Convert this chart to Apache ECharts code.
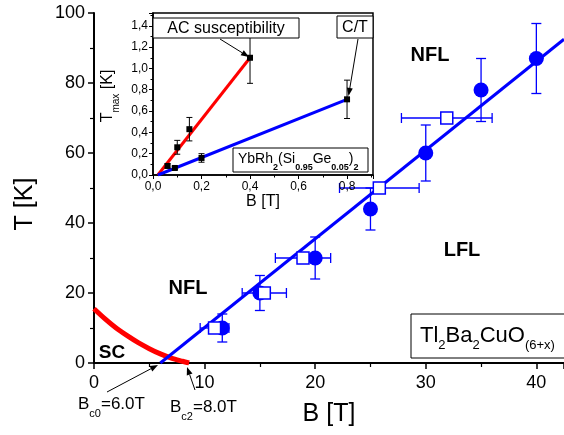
<!DOCTYPE html>
<html>
<head>
<meta charset="utf-8">
<script src="https://cdn.jsdelivr.net/npm/echarts@6/dist/echarts.min.js"></script>
<style>
  html, body { margin: 0; padding: 0; background: #fff; }
  #chart { width: 564px; height: 435px; }
</style>
</head>
<body>
<div id="chart"></div>
<script>
// main panel, Tl2Ba2CuO(6+x)
var circleB = [11.6, 15, 20, 25, 30, 35, 40];
var circleT = [10, 20, 30, 44, 60, 78, 87];
var circleTErr = [4, 5, 6, 6, 8, 9, 10];

var squareB = [10.9, 15.4, 18.9, 25.8, 31.9];
var squareT = [10, 20, 30, 50, 70];
var squareBErr = [1.3, 2, 2.5, 3.6, 4.1];

// superconducting boundary (red) and linear fit (blue)
var scB = [0, 1, 2, 3, 4, 5, 6, 7, 8, 8.6];
var scT = [15.5, 12.6, 10, 7.8, 5.8, 4.1, 2.6, 1.4, 0.5, 0];
var fitB = [6.0, 42.5];
var fitT = [0, 92.5];

// inset, YbRh2(Si0.95Ge0.05)2
var acB = [0.06, 0.1, 0.15, 0.4];
var acT = [0.085, 0.26, 0.43, 1.1];
var acErr = [0.02, 0.065, 0.11, 0.24];
var ctB = [0.09, 0.2, 0.8];
var ctT = [0.066, 0.16, 0.71];
var ctErr = [0.015, 0.04, 0.18];
var acLineB = [0.02, 0.4], acLineT = [0, 1.1];
var ctLineB = [0.02, 0.8], ctLineT = [0, 0.71];

var mainXTicks = [0, 10, 20, 30, 40];
var mainYTicks = [0, 20, 40, 60, 80, 100];

var BLUE = '#0000ff';
var RED = '#ff0000';
var FONT = 'Liberation Sans, Arial, sans-serif';

function zip(a, b, c) {
  return a.map(function (v, i) { return c ? [v, b[i], c[i]] : [v, b[i]]; });
}

// error bars drawn through the axes
function errBars(dim, color, cap, width) {
  return function (params, api) {
    var x = api.value(0), y = api.value(1), e = api.value(2);
    var a, b;
    if (dim === 'y') { a = api.coord([x, y - e]); b = api.coord([x, y + e]); }
    else { a = api.coord([x - e, y]); b = api.coord([x + e, y]); }
    var st = { stroke: color, lineWidth: width };
    var kids = [{ type: 'line', shape: { x1: a[0], y1: a[1], x2: b[0], y2: b[1] }, style: st }];
    [a, b].forEach(function (p) {
      kids.push(dim === 'y'
        ? { type: 'line', shape: { x1: p[0] - cap, y1: p[1], x2: p[0] + cap, y2: p[1] }, style: st }
        : { type: 'line', shape: { x1: p[0], y1: p[1] - cap, x2: p[0], y2: p[1] + cap }, style: st });
    });
    return { type: 'group', children: kids };
  };
}

function arrow(x1, y1, x2, y2) {
  var ang = Math.atan2(y2 - y1, x2 - x1), L = 8, W = 3;
  var bx = x2 - L * Math.cos(ang), by = y2 - L * Math.sin(ang);
  var nx = -Math.sin(ang), ny = Math.cos(ang);
  return [
    { type: 'line', z: 100, shape: { x1: x1, y1: y1, x2: bx, y2: by }, style: { stroke: '#000', lineWidth: 1 } },
    { type: 'polygon', z: 100, shape: { points: [[x2, y2], [bx + nx * W, by + ny * W], [bx - nx * W, by - ny * W]] }, style: { fill: '#000' } }
  ];
}

function label(x, y, text, size, opts) {
  opts = opts || {};
  return {
    type: 'text', z: 100, x: x, y: y, rotation: opts.rotation || 0,
    style: {
      text: text, fill: '#000', fontFamily: FONT, fontSize: size,
      fontWeight: opts.bold ? 'bold' : 'normal',
      align: opts.align || 'center', verticalAlign: 'middle',
      rich: opts.rich
    }
  };
}

function subRich(main, sub, lh, slh, subBold) {
  return {
    m: { fontSize: main, lineHeight: lh, fontFamily: FONT, fill: '#000' },
    s: { fontSize: sub, lineHeight: slh, verticalAlign: 'bottom', fontFamily: FONT, fill: '#000', fontWeight: subBold ? 'bold' : 'normal' }
  };
}

function box(x, y, w, h) {
  return { type: 'rect', z: 99, shape: { x: x, y: y, width: w, height: h }, style: { fill: '#fff', stroke: '#000', lineWidth: 1 } };
}

var commaFmt = function (v) { return v.toFixed(1).replace('.', ','); };

var mainAxisCommon = {
  axisLine: { show: true, onZero: false, lineStyle: { color: '#000', width: 2 } },
  axisTick: { show: true, inside: false, length: 6, lineStyle: { color: '#000', width: 1.5 } },
  minorTick: { show: true, splitNumber: 2, length: 4, lineStyle: { color: '#000', width: 1.2 } },
  splitLine: { show: false },
  axisLabel: { color: '#000', fontSize: 18, fontFamily: FONT, margin: 9 }
};

var insetAxisCommon = {
  axisLine: { show: true, onZero: false, lineStyle: { color: '#000', width: 1.5 } },
  axisTick: { show: true, inside: false, length: 4, lineStyle: { color: '#000', width: 1 } },
  minorTick: { show: true, splitNumber: 2, length: 2.5, lineStyle: { color: '#000', width: 1 } },
  splitLine: { show: false },
  axisLabel: { color: '#000', fontSize: 12, fontFamily: FONT, margin: 5, formatter: commaFmt, showMaxLabel: false }
};

var graphics = [];
graphics.push(label(430, 55, 'NFL', 20, { bold: true }));
graphics.push(label(462, 250, 'LFL', 20, { bold: true }));
graphics.push(label(188, 288, 'NFL', 20, { bold: true }));
graphics.push(label(112, 353, 'SC', 19, { bold: true }));

// main axis title on the left, drawn as rotated text
graphics.push(label(25, 204, 'T [K]', 25, { rotation: Math.PI / 2 }));

graphics.push(box(411, 314, 160, 44));
graphics.push(label(420, 336, '{m|Tl}{s|2}{m|Ba}{s|2}{m|CuO}{s|(6+x)}', 22,
  { align: 'left', rich: subRich(22, 13, 32, 12) }));

graphics.push(label(78, 404, '{m|B}{s|c0}{m|=6.0T}', 17, { align: 'left', rich: subRich(17, 11, 30, 10) }));
graphics.push(label(170, 407, '{m|B}{s|c2}{m|=8.0T}', 17, { align: 'left', rich: subRich(17, 11, 30, 10) }));
graphics = graphics.concat(arrow(107, 392, 158, 365));
graphics = graphics.concat(arrow(195, 390, 187, 367));

// inset annotations
graphics.push(box(153, 18, 146, 20));
graphics.push(label(226, 28.5, 'AC susceptibility', 16));
graphics.push(box(337, 16, 36, 22));
graphics.push(label(355, 27.5, 'C/T', 16));
graphics = graphics.concat(arrow(220, 39, 249, 57));
graphics = graphics.concat(arrow(358, 39, 348.5, 96));
graphics.push(box(233, 148, 135, 24));
graphics.push(label(238, 159, '{m|YbRh}{s|2}{m|(Si}{s|0.95}{m|Ge}{s|0.05}{m|)}{s|2}', 14,
  { align: 'left', rich: subRich(14, 9, 26, 8, true) }));
graphics.push(label(108, 96, '{m|T}{s|max}{m| [K]}', 16,
  { rotation: Math.PI / 2, rich: subRich(16, 10, 26, 10) }));

var option = {
  animation: false,
  backgroundColor: '#fff',
  grid: [
    { left: 94, right: 0, top: 13, bottom: 72, containLabel: false, outerBoundsMode: 'none' },
    { left: 153, top: 13, width: 220, height: 162, show: true, backgroundColor: '#fff',
      borderColor: '#000', borderWidth: 1.5, containLabel: false, outerBoundsMode: 'none', z: 5 }
  ],
  xAxis: [
    Object.assign({}, mainAxisCommon, {
      type: 'value', gridIndex: 0, min: mainXTicks[0], max: 42.5, interval: 10, position: 'bottom',
      axisLabel: Object.assign({}, mainAxisCommon.axisLabel, { showMaxLabel: false, margin: 11 }),
      name: 'B [T]', nameLocation: 'middle', nameGap: 39,
      nameTextStyle: { color: '#000', fontSize: 25, fontFamily: FONT }
    }),
    {
      type: 'value', gridIndex: 0, min: 0, max: 42.5, position: 'top',
      axisLine: { show: true, lineStyle: { color: '#000', width: 2 } },
      axisTick: { show: false }, axisLabel: { show: false }, splitLine: { show: false }
    },
    Object.assign({}, insetAxisCommon, {
      type: 'value', gridIndex: 1, min: 0, max: 0.907, interval: 0.2, position: 'bottom', z: 6,
      axisLabel: Object.assign({}, insetAxisCommon.axisLabel, { margin: 6 }),
      name: 'B [T]', nameLocation: 'middle', nameGap: 19,
      nameTextStyle: { color: '#000', fontSize: 16, fontFamily: FONT }
    })
  ],
  yAxis: [
    Object.assign({}, mainAxisCommon, {
      type: 'value', gridIndex: 0, min: mainYTicks[0], max: 100, interval: 20
    }),
    Object.assign({}, insetAxisCommon, {
      type: 'value', gridIndex: 1, min: 0, max: 1.52, interval: 0.2, z: 6
    })
  ],
  graphic: { elements: graphics },
  series: [
    { type: 'line', xAxisIndex: 0, yAxisIndex: 0, data: zip(scB, scT), smooth: 0.3, symbol: 'none',
      lineStyle: { color: RED, width: 5 }, z: 3 },
    { type: 'line', xAxisIndex: 0, yAxisIndex: 0, data: zip(fitB, fitT), symbol: 'none',
      lineStyle: { color: BLUE, width: 3 }, z: 3 },
    { type: 'custom', xAxisIndex: 0, yAxisIndex: 0, data: zip(circleB, circleT, circleTErr),
      renderItem: errBars('y', BLUE, 5, 1.3), encode: { x: 0, y: 1 }, z: 4, clip: false },
    { type: 'custom', xAxisIndex: 0, yAxisIndex: 0, data: zip(squareB, squareT, squareBErr),
      renderItem: errBars('x', BLUE, 5, 1.3), encode: { x: 0, y: 1 }, z: 4, clip: false },
    { type: 'scatter', xAxisIndex: 0, yAxisIndex: 0, data: zip(circleB, circleT), symbol: 'circle', symbolSize: 15,
      itemStyle: { color: BLUE, opacity: 1 }, z: 5 },
    { type: 'scatter', xAxisIndex: 0, yAxisIndex: 0, data: zip(squareB, squareT), symbol: 'rect', symbolSize: 12,
      itemStyle: { color: '#fff', borderColor: BLUE, borderWidth: 1.5, opacity: 1 }, z: 5 },

    { type: 'line', xAxisIndex: 2, yAxisIndex: 1, data: zip(acLineB, acLineT), symbol: 'none',
      lineStyle: { color: RED, width: 3 }, z: 7 },
    { type: 'line', xAxisIndex: 2, yAxisIndex: 1, data: zip(ctLineB, ctLineT), symbol: 'none',
      lineStyle: { color: BLUE, width: 3 }, z: 7 },
    { type: 'custom', xAxisIndex: 2, yAxisIndex: 1, data: zip(acB, acT, acErr),
      renderItem: errBars('y', '#000', 3, 1), encode: { x: 0, y: 1 }, z: 8, clip: false },
    { type: 'custom', xAxisIndex: 2, yAxisIndex: 1, data: zip(ctB, ctT, ctErr),
      renderItem: errBars('y', '#000', 3, 1), encode: { x: 0, y: 1 }, z: 8, clip: false },
    { type: 'scatter', xAxisIndex: 2, yAxisIndex: 1, data: zip(acB, acT), symbol: 'rect', symbolSize: 6,
      itemStyle: { color: '#000', opacity: 1 }, z: 9 },
    { type: 'scatter', xAxisIndex: 2, yAxisIndex: 1, data: zip(ctB, ctT), symbol: 'rect', symbolSize: 6,
      itemStyle: { color: '#000', opacity: 1 }, z: 9 }
  ]
};

var chart = echarts.init(document.getElementById('chart'));
chart.setOption(option);
</script>
</body>
</html>
